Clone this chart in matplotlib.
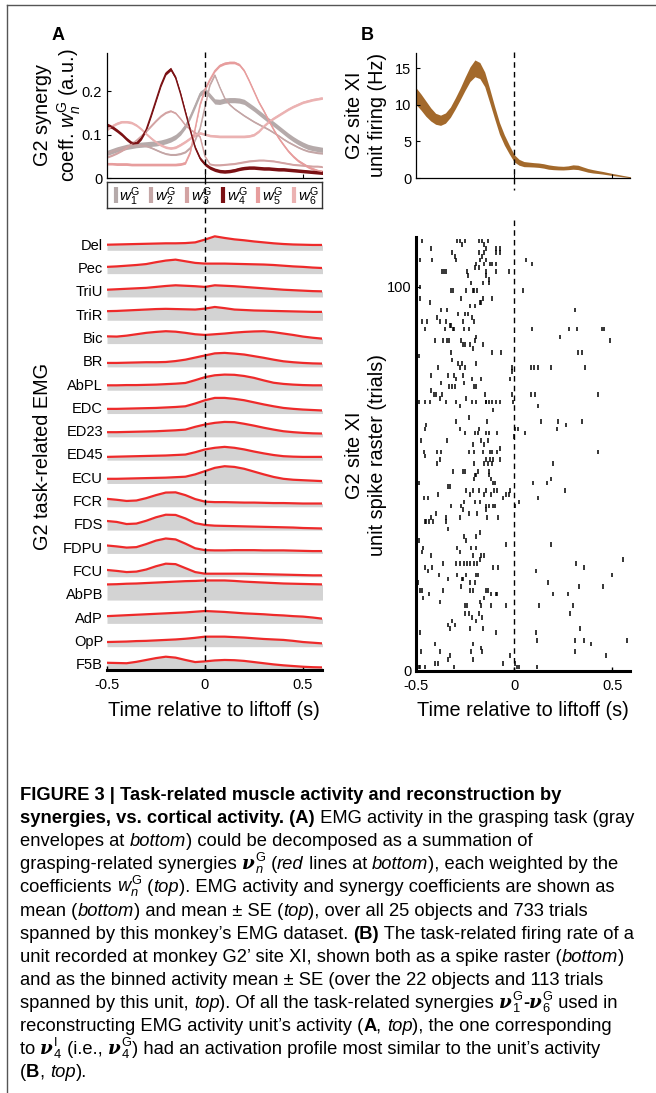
import numpy as np
import matplotlib
matplotlib.use("Agg")
import matplotlib.pyplot as plt
from matplotlib.lines import Line2D
from matplotlib.transforms import blended_transform_factory

plt.rcParams.update({
    "font.family": ["Liberation Sans", "DejaVu Sans"],
    "font.size": 10.5,
    "mathtext.fontset": "custom",
    "mathtext.rm": "Liberation Sans",
    "mathtext.it": "Liberation Sans:italic",
    "mathtext.bf": "Liberation Sans:bold",
    "axes.linewidth": 0.9,
    "xtick.direction": "in",
    "ytick.direction": "in",
    "xtick.major.size": 3,
    "ytick.major.size": 3,
})

W, H = 656, 1093

# ---------------- data ----------------
t_fine = np.round(np.arange(-0.5, 0.6001, 0.025), 3)   # 45 points
t_emg = np.round(np.arange(-0.5, 0.6001, 0.05), 3)     # 23 points

# synergy coefficients w_n^G (mean), panel A top
w1 = [0.058, 0.062, 0.066, 0.069, 0.072, 0.074, 0.076, 0.077, 0.078, 0.079,
      0.080, 0.082, 0.085, 0.089, 0.095, 0.105, 0.120, 0.142, 0.168, 0.195,
      0.203, 0.190, 0.177, 0.176, 0.179, 0.180, 0.180, 0.179, 0.176, 0.168,
      0.160, 0.151, 0.142, 0.133, 0.125, 0.116, 0.107, 0.098, 0.090, 0.083,
      0.077, 0.072, 0.069, 0.067, 0.065]
w2 = [0.058, 0.062, 0.066, 0.070, 0.073, 0.075, 0.076, 0.076, 0.074, 0.070,
      0.065, 0.060, 0.056, 0.054, 0.054, 0.056, 0.060, 0.070, 0.088, 0.115,
      0.165, 0.215, 0.238, 0.210, 0.185, 0.170, 0.160, 0.152, 0.144, 0.137,
      0.130, 0.124, 0.118, 0.112, 0.105, 0.098, 0.090, 0.083, 0.077, 0.071,
      0.066, 0.062, 0.060, 0.058, 0.057]
w3 = [0.048, 0.052, 0.057, 0.063, 0.070, 0.078, 0.087, 0.097, 0.108, 0.120,
      0.132, 0.143, 0.151, 0.155, 0.150, 0.137, 0.122, 0.112, 0.105, 0.095,
      0.050, 0.032, 0.030, 0.030, 0.031, 0.032, 0.033, 0.035, 0.037, 0.039,
      0.040, 0.041, 0.041, 0.040, 0.039, 0.037, 0.035, 0.033, 0.031, 0.030,
      0.029, 0.028, 0.027, 0.027, 0.026]
w4 = [0.123, 0.118, 0.110, 0.101, 0.090, 0.081, 0.080, 0.092, 0.112, 0.145,
      0.180, 0.215, 0.242, 0.252, 0.232, 0.195, 0.152, 0.110, 0.070, 0.045,
      0.032, 0.024, 0.019, 0.016, 0.015, 0.016, 0.018, 0.021, 0.023, 0.024,
      0.024, 0.023, 0.022, 0.022, 0.021, 0.020, 0.020, 0.019, 0.018, 0.017,
      0.016, 0.015, 0.014, 0.013, 0.012]
w5 = [0.033, 0.033, 0.032, 0.032, 0.032, 0.031, 0.031, 0.031, 0.031, 0.031,
      0.031, 0.031, 0.031, 0.031, 0.031, 0.032, 0.035, 0.060, 0.115, 0.170,
      0.205, 0.228, 0.248, 0.260, 0.265, 0.267, 0.267, 0.262, 0.248, 0.225,
      0.200, 0.175, 0.155, 0.133, 0.112, 0.093, 0.077, 0.062, 0.050, 0.040,
      0.033, 0.026, 0.021, 0.017, 0.015]
w6 = [0.112, 0.120, 0.126, 0.130, 0.130, 0.128, 0.122, 0.113, 0.102, 0.092,
      0.083, 0.076, 0.071, 0.069, 0.071, 0.077, 0.084, 0.092, 0.099, 0.104,
      0.101, 0.098, 0.097, 0.096, 0.096, 0.096, 0.096, 0.096, 0.096, 0.097,
      0.100, 0.108, 0.120, 0.130, 0.138, 0.145, 0.152, 0.159, 0.165, 0.170,
      0.175, 0.178, 0.181, 0.183, 0.185]
syn_se = [0.006, 0.002, 0.002, 0.004, 0.003, 0.003]
syn_colors = ["#b5aaaa", "#c4a6a6", "#d3a3a3", "#7b1114", "#e79d9d", "#ebb2b2"]

# unit firing rate, panel B top (mean and SE, Hz)
rate_mean = [11.2, 10.4, 9.5, 8.7, 8.1, 7.9, 8.2, 9.0, 10.2, 11.5,
             12.9, 14.2, 15.0, 14.7, 13.5, 11.3, 9.0, 6.8, 5.2, 3.9,
             2.7, 2.15, 1.9, 1.85, 1.8, 1.75, 1.65, 1.5, 1.42, 1.37,
             1.35, 1.4, 1.5, 1.45, 1.25, 1.05, 0.92, 0.82, 0.72, 0.6,
             0.48, 0.38, 0.27, 0.17, 0.08]
rate_se = [1.15, 1.1, 1.05, 0.9, 0.75, 0.7, 0.7, 0.7, 0.75, 0.8,
           0.9, 1.0, 1.15, 1.1, 1.0, 0.95, 0.85, 0.8, 0.7, 0.6,
           0.5, 0.4, 0.35, 0.32, 0.3, 0.3, 0.3, 0.3, 0.28, 0.26,
           0.25, 0.26, 0.3, 0.3, 0.27, 0.25, 0.23, 0.2, 0.18, 0.16,
           0.14, 0.12, 0.1, 0.08, 0.05]

# EMG envelopes (row units), top to bottom
muscles = ["Del", "Pec", "TriU", "TriR", "Bic", "BR", "AbPL", "EDC", "ED23",
           "ED45", "ECU", "FCR", "FDS", "FDPU", "FCU", "AbPB", "AdP", "OpP", "F5B"]
emg = [
    [.24, .25, .26, .27, .28, .29, .30, .30, .31, .34, .46, .60, .53, .47, .43, .38, .34, .30, .27, .25, .24, .23, .23],
    [.29, .31, .34, .37, .41, .49, .56, .60, .53, .46, .43, .43, .43, .42, .41, .40, .39, .37, .34, .31, .29, .26, .24],
    [.31, .33, .35, .37, .39, .43, .47, .50, .48, .46, .43, .50, .48, .46, .43, .40, .37, .34, .31, .29, .27, .25, .24],
    [.39, .40, .42, .44, .46, .48, .49, .48, .47, .46, .50, .57, .52, .46, .44, .42, .41, .40, .39, .38, .37, .36, .36],
    [.31, .30, .34, .40, .46, .50, .53, .51, .46, .40, .37, .40, .43, .47, .50, .52, .53, .49, .43, .37, .30, .25, .21],
    [.17, .17, .18, .19, .20, .20, .21, .25, .31, .40, .49, .58, .60, .57, .53, .46, .39, .31, .24, .20, .17, .15, .14],
    [.21, .21, .22, .22, .23, .24, .26, .28, .31, .43, .56, .64, .67, .66, .61, .53, .42, .32, .27, .24, .22, .21, .21],
    [.20, .20, .21, .22, .23, .24, .26, .28, .31, .43, .57, .67, .67, .63, .57, .48, .39, .31, .24, .20, .17, .15, .13],
    [.20, .20, .21, .22, .23, .24, .26, .28, .31, .43, .53, .60, .64, .63, .56, .48, .39, .31, .24, .20, .17, .15, .14],
    [.14, .15, .16, .17, .18, .19, .20, .22, .24, .34, .46, .53, .57, .53, .46, .37, .29, .22, .17, .15, .14, .14, .14],
    [.20, .20, .21, .22, .23, .24, .25, .27, .29, .39, .53, .67, .74, .71, .63, .51, .39, .28, .20, .16, .14, .12, .10],
    [.34, .30, .25, .27, .37, .50, .61, .62, .50, .33, .22, .20, .20, .19, .18, .18, .17, .16, .16, .15, .14, .14, .14],
    [.39, .35, .26, .28, .40, .55, .66, .65, .50, .30, .22, .19, .18, .17, .16, .15, .14, .13, .12, .11, .09, .08, .07],
    [.34, .30, .25, .27, .40, .55, .64, .60, .42, .22, .14, .13, .13, .14, .14, .14, .13, .13, .13, .12, .11, .10, .10],
    [.29, .25, .20, .22, .31, .45, .56, .54, .37, .20, .13, .13, .13, .13, .13, .12, .11, .10, .09, .08, .07, .06, .06],
    [.67, .68, .70, .71, .73, .75, .77, .79, .81, .82, .84, .84, .84, .82, .79, .77, .75, .73, .71, .70, .69, .68, .67],
    [.31, .33, .35, .37, .39, .41, .43, .45, .47, .50, .53, .51, .49, .46, .43, .41, .39, .36, .34, .31, .29, .25, .20],
    [.20, .21, .22, .24, .25, .27, .29, .31, .34, .38, .43, .43, .43, .41, .39, .36, .33, .31, .29, .25, .20, .17, .14],
    [.31, .30, .29, .35, .43, .51, .57, .53, .43, .34, .37, .41, .43, .42, .39, .34, .29, .24, .20, .17, .14, .12, .11],
]

# spike raster: trial -> spike times (s)
raster = {
    112: [-0.468, -0.289, -0.277, -0.252, -0.18, -0.163, -0.131],
    111: [-0.265, -0.155],
    110: [-0.422, -0.141, -0.095, -0.07],
    109: [-0.316, -0.18, -0.155, -0.095, -0.07],
    108: [-0.299, -0.163],
    107: [-0.48, -0.418, -0.298, -0.172, -0.146, 0.058],
    106: [-0.192, -0.155, -0.124, -0.112, -0.095, 0.092],
    105: [-0.197, -0.18],
    104: [-0.369, -0.357, -0.345, -0.238, -0.141, -0.095, -0.027],
    103: [-0.235, -0.141],
    102: [-0.129],
    101: [-0.218, -0.158, -0.128],
    100: [-0.48],
    99: [-0.323, -0.31, -0.247, -0.209, -0.206, -0.187, 0.046],
    97: [-0.478, -0.269, -0.158, -0.112],
    96: [-0.427, -0.175, -0.17],
    95: [-0.226, -0.199],
    94: [-0.371, -0.34, 0.31],
    93: [-0.286, -0.248, -0.235],
    92: [-0.393, -0.214],
    91: [-0.468, -0.444, -0.379, -0.345, -0.26, -0.206],
    90: [-0.328, -0.322],
    89: [-0.456, -0.354, -0.311, -0.308, -0.257, -0.23, 0.092, 0.279, 0.318, 0.449, 0.459],
    87: [-0.192, 0.233],
    86: [-0.405, -0.362, -0.34, -0.332, -0.272, -0.197, 0.488],
    85: [-0.26, -0.248, -0.226, -0.158],
    84: [-0.209],
    83: [-0.323, -0.112, -0.065, 0.327, 0.347],
    82: [-0.487],
    81: [-0.315],
    80: [-0.286, -0.265, -0.192],
    79: [-0.388, -0.277, -0.252, -0.009, 0.085, 0.10, 0.122, 0.19, 0.361],
    78: [-0.009],
    77: [-0.422, -0.337, -0.306, -0.26],
    76: [-0.298, -0.214, -0.167, -0.022],
    75: [-0.374, -0.257],
    74: [-0.333, -0.316, -0.299, -0.206, -0.192],
    73: [-0.422],
    72: [-0.408, -0.40, -0.366, -0.15, -0.009, 0.085, 0.105, 0.429],
    71: [-0.379, -0.247],
    70: [-0.495, -0.485, -0.456, -0.43, -0.349, -0.298, -0.213, -0.192, -0.145,
         -0.141, -0.128, -0.112, -0.095, -0.07, -0.005],
    69: [-0.277, 0.122],
    68: [-0.107],
    66: [-0.23],
    65: [-0.294, -0.138, 0.136, 0.224, 0.347],
    64: [-0.447, 0.262],
    63: [-0.456, -0.274, -0.18, 0.003, 0.02, 0.216],
    62: [-0.252, -0.197, -0.184, -0.146, -0.129, -0.087, 0.054],
    61: [-0.002],
    60: [-0.476, -0.342, -0.167, -0.133],
    59: [-0.209, -0.153],
    58: [-0.07],
    57: [-0.459, -0.393, -0.371, -0.23, -0.206, -0.158, -0.124, -0.112, -0.087, 0.429],
    56: [-0.452],
    55: [-0.379, -0.146, -0.124, -0.107, -0.073],
    54: [-0.393, -0.206, -0.155, -0.133, -0.112, 0.199],
    52: [-0.311, -0.26, -0.252, -0.184, -0.128],
    51: [-0.197, -0.192, -0.128],
    50: [-0.206, -0.116, 0.19],
    49: [-0.485, -0.107, -0.099, 0.097, 0.165],
    48: [-0.337, -0.328],
    47: [-0.243, -0.209, -0.18, -0.141, -0.102, -0.085, -0.019, 0.259],
    46: [-0.388, -0.226, -0.155, -0.116, -0.044, -0.027],
    45: [-0.461, -0.439, -0.056, 0.122],
    44: [-0.255, -0.197, -0.175, 0.024],
    43: [-0.32, -0.269, -0.141, -0.128, -0.107, -0.099, 0.003],
    42: [-0.26, -0.145],
    41: [-0.396, -0.23, -0.189],
    40: [-0.422, -0.345, -0.274, -0.138, -0.082],
    39: [-0.456, -0.447, -0.435, -0.413, -0.349],
    37: [-0.337],
    36: [-0.175],
    35: [-0.257, -0.196],
    34: [-0.485, -0.247],
    33: [-0.043, 0.19],
    32: [-0.464, -0.291, -0.218, -0.192],
    31: [-0.468, -0.277],
    30: [-0.422, -0.209, -0.167, -0.155],
    29: [-0.175, 0.556],
    28: [-0.362, -0.294, -0.274, -0.257, -0.24, -0.226, -0.206, -0.189, 0.313],
    27: [-0.456, -0.418, -0.107, -0.082, 0.355],
    26: [-0.439, 0.11],
    25: [-0.383, -0.289, -0.243, -0.192, -0.184, 0.497],
    24: [-0.495, -0.337, -0.264, -0.26],
    23: [-0.49, -0.226, -0.201, 0.17],
    22: [-0.269, 0.332, 0.454],
    21: [-0.48, -0.468, -0.362, -0.226, -0.209, -0.145, -0.133],
    20: [-0.434, -0.119, -0.095, -0.085, 0.196, 0.276],
    19: [-0.464, -0.155],
    18: [-0.379, -0.175],
    17: [-0.252, -0.24, -0.167, -0.119, -0.043, 0.128, 0.301],
    15: [-0.252, -0.23, -0.179, 0.284],
    14: [-0.213, -0.162],
    13: [-0.315, -0.196],
    12: [-0.337, -0.303],
    11: [-0.325, -0.226, -0.158, 0.335],
    10: [-0.48, -0.094, 0.11],
    8: [0.114, 0.31, 0.355, 0.573],
    7: [-0.405, -0.209, 0.391],
    6: [-0.167],
    5: [-0.473, -0.379, -0.218, -0.162, 0.31],
    4: [-0.328, -0.022, 0.468],
    3: [-0.337, -0.209],
    2: [-0.405, -0.388, -0.056, 0.003],
    1: [-0.495, -0.485, -0.478, -0.456, -0.308, 0.015, 0.026, 0.117],
}

NU = "\u03bd"
CAPTION = [
    [("FIGURE 3 | Task-related muscle activity and reconstruction by", "b")],
    [("synergies, vs. cortical activity. (A)", "b"), (" EMG activity in the grasping task (gray", "r")],
    [("envelopes at ", "r"), ("bottom", "i"), (") could be decomposed as a summation of", "r")],
    [("grasping-related synergies ", "r"), (NU, "nu"), (r"${}_{n}^{\mathrm{G}}$", "m"), (" (", "r"),
     ("red", "i"), (" lines at ", "r"), ("bottom", "i"), ("), each weighted by the", "r")],
    [("coefficients ", "r"), (r"$w_{n}^{\mathrm{G}}$", "m"), (" (", "r"), ("top", "i"),
     ("). EMG activity and synergy coefficients are shown as", "r")],
    [("mean (", "r"), ("bottom", "i"), (") and mean \u00b1 SE (", "r"), ("top", "i"),
     ("), over all 25 objects and 733 trials", "r")],
    [("spanned by this monkey\u2019s EMG dataset. ", "r"), ("(B)", "b"),
     (" The task-related firing rate of a", "r")],
    [("unit recorded at monkey G2\u2019 site XI, shown both as a spike raster (", "r"),
     ("bottom", "i"), (")", "r")],
    [("and as the binned activity mean \u00b1 SE (over the 22 objects and 113 trials", "r")],
    [("spanned by this unit, ", "r"), ("top", "i"), ("). Of all the task-related synergies ", "r"),
     (NU, "nu"), (r"${}_{1}^{\mathrm{G}}$", "m"), ("-", "b"), (NU, "nu"),
     (r"${}_{6}^{\mathrm{G}}$", "m"), (" used in", "r")],
    [("reconstructing EMG activity unit\u2019s activity (", "r"), ("A", "b"), (", ", "r"),
     ("top", "i"), ("), the one corresponding", "r")],
    [("to ", "r"), (NU, "nu"), (r"${}_{4}^{\mathrm{I}}$", "m"), (" (i.e., ", "r"), (NU, "nu"),
     (r"${}_{4}^{\mathrm{G}}$", "m"), (") had an activation profile most similar to the unit\u2019s activity", "r")],
    [("(", "r"), ("B", "b"), (", ", "r"), ("top", "i"), (").", "r")],
]

# ---------------- figure ----------------
fig = plt.figure(figsize=(W / 100, H / 100), dpi=100)


def fx(px):
    return px / W


def fy(py):
    return 1 - py / H


def axes_px(left, top, right, bottom):
    return fig.add_axes([fx(left), fy(bottom), (right - left) / W, (bottom - top) / H])


XMAX = 0.597
LAB = 14.3

# Panel A top: synergy coefficients
ax_syn = axes_px(107, 53, 322, 178)
order = (0, 1, 2, 5, 4, 3)
syn_all = [w1, w2, w3, w4, w5, w6]
for i in order:
    w = np.array(syn_all[i])
    ax_syn.fill_between(t_fine, w - syn_se[i], w + syn_se[i], color=syn_colors[i], lw=0)
    ax_syn.plot(t_fine, w, color=syn_colors[i], lw=1.0)
ax_syn.set_xlim(-0.5, XMAX)
ax_syn.set_ylim(0, 0.289)
ax_syn.set_yticks([0, 0.1, 0.2])
ax_syn.set_yticklabels(["0", "0.1", "0.2"])
ax_syn.set_xticks([0, 0.5])
ax_syn.set_xticklabels([])
for s in ("top", "right"):
    ax_syn.spines[s].set_visible(False)
fig.text(fx(58), fy(115), "G2 synergy\ncoeff. $w_{n}^{\\mathrm{G}}$ (a.u.)", rotation=90,
         ha="center", va="center", fontsize=LAB, linespacing=1.2)

# legend box
ax_leg = axes_px(107, 182, 322, 208)
ax_leg.set_xlim(0, 1)
ax_leg.set_ylim(0, 1)
ax_leg.set_xticks([])
ax_leg.set_yticks([])
for s in ax_leg.spines.values():
    s.set_linewidth(1.0)
    s.set_color("#333333")
for i, c in enumerate(syn_colors):
    x0 = 0.04 + i * 0.166
    ax_leg.plot([x0, x0], [0.2, 0.8], color=c, lw=3.0, solid_capstyle="butt")
    ax_leg.text(x0 + 0.018, 0.42, "$w_{%d}^{\\mathrm{G}}$" % (i + 1), va="center",
                ha="left", fontsize=11)

# Panel A bottom: EMG
ax_emg = axes_px(107, 227, 322, 670)
n_mus = len(muscles)
for k, (name, env) in enumerate(zip(muscles, emg)):
    base = n_mus - 1 - k
    env = np.array(env)
    ax_emg.fill_between(t_emg, base, base + env, color="#d3d3d3", lw=0)
    ax_emg.plot(t_emg, base + env, color="#ee2a2a", lw=1.6)
    ax_emg.text(-0.52, base + 0.2, name, ha="right", va="center", fontsize=10.5)
ax_emg.set_xlim(-0.5, XMAX)
ax_emg.set_ylim(0, n_mus)
ax_emg.set_yticks([])
ax_emg.set_xticks([-0.5, 0, 0.5])
ax_emg.set_xticklabels(["-0.5", "0", "0.5"])
ax_emg.tick_params(axis="x", pad=6, labelsize=10.5, width=1)
for s in ("top", "right", "left"):
    ax_emg.spines[s].set_visible(False)
ax_emg.spines["bottom"].set_linewidth(2.2)
fig.text(fx(214), fy(711), "Time relative to liftoff (s)", ha="center", va="center", fontsize=LAB)
fig.text(fx(43), fy(456), "G2 task-related EMG", rotation=90, ha="center", va="center",
         fontsize=LAB)

# Panel B top: firing rate
ax_fr = axes_px(416, 53, 630, 178)
rm = np.array(rate_mean)
rs = np.array(rate_se)
ax_fr.fill_between(t_fine, rm - rs, rm + rs, color="#a3692b", lw=0)
ax_fr.set_xlim(-0.5, 0.59)
ax_fr.set_ylim(0, 17.1)
ax_fr.set_yticks([0, 5, 10, 15])
ax_fr.set_xticks([0, 0.5])
ax_fr.set_xticklabels([])
for s in ("top", "right"):
    ax_fr.spines[s].set_visible(False)
fig.text(fx(366), fy(115), "G2 site XI\nunit firing (Hz)", rotation=90, ha="center",
         va="center", fontsize=LAB, linespacing=1.25)

# Panel B bottom: raster
ax_ras = axes_px(416, 237, 630, 671)
for trial, times in raster.items():
    ax_ras.vlines(times, trial - 0.6, trial + 0.6, color="black", lw=1.1)
ax_ras.set_xlim(-0.5, 0.59)
ax_ras.set_ylim(0, 113)
ax_ras.set_yticks([0, 100])
ax_ras.set_xticks([-0.5, 0, 0.5])
ax_ras.set_xticklabels(["-0.5", "0", "0.5"])
ax_ras.tick_params(axis="x", pad=6, labelsize=10.5, width=1)
ax_ras.tick_params(axis="y", pad=3, labelsize=10.5)
for s in ("top", "right"):
    ax_ras.spines[s].set_visible(False)
ax_ras.spines["bottom"].set_linewidth(2.2)
ax_ras.spines["left"].set_linewidth(2.2)
fig.text(fx(523), fy(711), "Time relative to liftoff (s)", ha="center", va="center", fontsize=LAB)
fig.text(fx(366), fy(455), "G2 site XI\nunit spike raster (trials)", rotation=90,
         ha="center", va="center", fontsize=LAB, linespacing=1.25)

# dashed liftoff markers
dash = dict(color="black", lw=1.0, ls=(0, (4, 3)))
fig.add_artist(Line2D([0, 0], [fy(52), fy(670)],
                      transform=blended_transform_factory(ax_emg.transData, fig.transFigure), **dash))
fig.add_artist(Line2D([0, 0], [fy(52), fy(190)],
                      transform=blended_transform_factory(ax_fr.transData, fig.transFigure), **dash))
fig.add_artist(Line2D([0, 0], [fy(220), fy(671)],
                      transform=blended_transform_factory(ax_ras.transData, fig.transFigure), **dash))

# panel letters
fig.text(fx(58), fy(35), "A", fontsize=13, fontweight="bold", ha="center", va="center")
fig.text(fx(367), fy(35), "B", fontsize=13, fontweight="bold", ha="center", va="center")

# page border
fig.add_artist(Line2D([fx(7), fx(7)], [fy(5), 0], transform=fig.transFigure, color="#555555", lw=1))
fig.add_artist(Line2D([fx(7), 1], [fy(5), fy(5)], transform=fig.transFigure, color="#555555", lw=1))

# caption (mixed styles laid out piece by piece)
CAP_FONT = ["Liberation Sans", "DejaVu Sans"]
CAP_SIZE = 13.2


def seg_props(style):
    if style == "b":
        return dict(family=CAP_FONT, weight="bold")
    if style == "i":
        return dict(family=CAP_FONT, style="italic")
    if style == "nu":
        return dict(family=["DejaVu Serif"], weight="bold", style="italic")
    return dict(family=CAP_FONT)


renderer = fig.canvas.get_renderer()


def seg_width(txt, style):
    props = seg_props(style)
    if style == "m":
        t = fig.text(0, 0, txt, fontsize=CAP_SIZE, **props)
        w = t.get_window_extent(renderer).width
        t.remove()
        return w
    a = fig.text(0, 0, "|" + txt + "|", fontsize=CAP_SIZE, **props)
    b = fig.text(0, 0, "||", fontsize=CAP_SIZE, **props)
    w = a.get_window_extent(renderer).width - b.get_window_extent(renderer).width
    a.remove()
    b.remove()
    return w


for i, line in enumerate(CAPTION):
    x = 20.0
    y = 800 + i * 23.1
    for txt, style in line:
        fig.text(fx(x), fy(y), txt, fontsize=CAP_SIZE, ha="left", va="baseline", **seg_props(style))
        x += seg_width(txt, style)

fig.savefig("out.png", dpi=100)
